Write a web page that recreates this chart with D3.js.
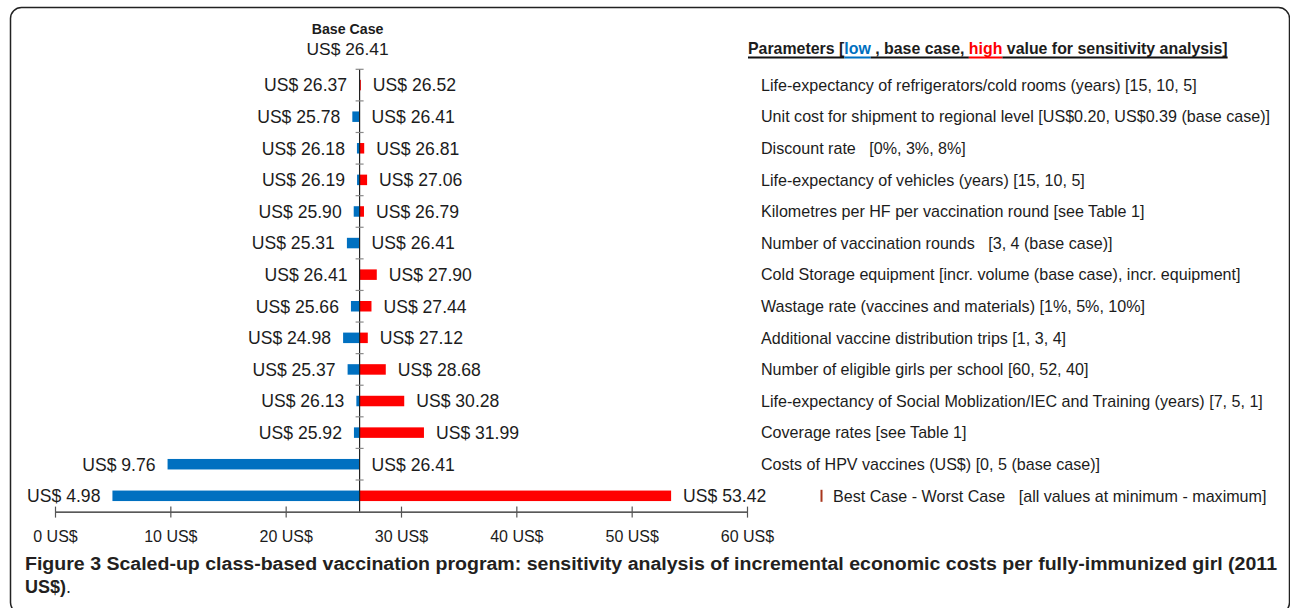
<!DOCTYPE html>
<html>
<head>
<meta charset="utf-8">
<script src="https://cdn.jsdelivr.net/npm/d3@7"></script>
<style>
  html, body { margin: 0; padding: 0; background: #fff; }
  svg { display: block; }
  text { font-family: "Liberation Sans", Arial, sans-serif; }
</style>
</head>
<body>
<svg id="chart" width="1290" height="608"></svg>
<script>
// ---- data ----
const parameters = [
  "Life-expectancy of refrigerators/cold rooms (years) [15, 10, 5]",
  "Unit cost for shipment to regional level [US$0.20, US$0.39 (base case)]",
  "Discount rate   [0%, 3%, 8%]",
  "Life-expectancy of vehicles (years) [15, 10, 5]",
  "Kilometres per HF per vaccination round [see Table 1]",
  "Number of vaccination rounds   [3, 4 (base case)]",
  "Cold Storage equipment [incr. volume (base case), incr. equipment]",
  "Wastage rate (vaccines and materials) [1%, 5%, 10%]",
  "Additional vaccine distribution trips [1, 3, 4]",
  "Number of eligible girls per school [60, 52, 40]",
  "Life-expectancy of Social Moblization/IEC and Training (years) [7, 5, 1]",
  "Coverage rates [see Table 1]",
  "Costs of HPV vaccines (US$) [0, 5 (base case)]",
  "Best Case - Worst Case   [all values at minimum - maximum]"
];
const lowValues  = [26.37, 25.78, 26.18, 26.19, 25.90, 25.31, 26.41, 25.66, 24.98, 25.37, 26.13, 25.92, 9.76, 4.98];
const highValues = [26.52, 26.41, 26.81, 27.06, 26.79, 26.41, 27.90, 27.44, 27.12, 28.68, 30.28, 31.99, 26.41, 53.42];
const baseCase = 26.41;
const tickValues = [0, 10, 20, 30, 40, 50, 60];
const tickLabels = ["0 US$", "10 US$", "20 US$", "30 US$", "40 US$", "50 US$", "60 US$"];

const BLUE = "#0070C0", RED = "#FF0000", TXT = "#1c1c1c";
const fmt = v => "US$ " + v.toFixed(2);

const svg = d3.select("#chart");

// frame
svg.append("rect")
  .attr("x", 10.5).attr("y", 7.5)
  .attr("width", 1279).attr("height", 606)
  .attr("rx", 11).attr("ry", 11)
  .attr("fill", "none").attr("stroke", "#222").attr("stroke-width", 1.5);

// scales
const x = d3.scaleLinear().domain([0, 60]).range([55, 747]);
const rows = d3.range(parameters.length);
const y = d3.scaleBand().domain(rows).range([69.3, 511.6]).paddingInner(0).paddingOuter(0);
const barH = 10.5;

// header
svg.append("text").attr("x", x(baseCase) - 12).attr("y", 33.5)
  .attr("text-anchor", "middle").attr("font-size", 14.2).attr("font-weight", "bold")
  .attr("fill", TXT).text("Base Case");
svg.append("text").attr("x", x(baseCase) - 12).attr("y", 55)
  .attr("text-anchor", "middle").attr("font-size", 17.4)
  .attr("fill", TXT).text(fmt(baseCase));

// parameters header
const hdr = svg.append("text").attr("x", 748).attr("y", 54)
  .attr("font-size", 15.9).attr("font-weight", "bold").attr("fill", TXT);
const hdrParts = [
  ["Parameters [", TXT], ["low", BLUE], [" , base case, ", TXT], ["high", RED],
  [" value for sensitivity analysis]", TXT]
];
hdrParts.forEach(([t, c]) => hdr.append("tspan").attr("fill", c).style("white-space", "pre").text(t));
// thick underline drawn per segment
{
  let cx = 748;
  const g = svg.append("g");
  const tmp = svg.append("text").attr("font-size", 15.9).attr("font-weight", "bold").style("white-space", "pre");
  hdrParts.forEach(([t, c]) => {
    tmp.text(t);
    const w = tmp.node().getComputedTextLength();
    g.append("rect").attr("x", cx).attr("y", 56.5).attr("width", w).attr("height", 2).attr("fill", c === TXT ? "#111" : c);
    cx += w;
  });
  tmp.remove();
}

// bars
const rowsG = svg.append("g");
rows.forEach(i => {
  const yc = y(i) + y.bandwidth() / 2;
  const lo = Math.min(lowValues[i], baseCase);
  const hi = Math.max(highValues[i], baseCase);
  if (lo < baseCase) {
    rowsG.append("rect").attr("x", x(lo)).attr("y", yc - barH / 2)
      .attr("width", x(baseCase) - x(lo)).attr("height", barH).attr("fill", BLUE);
  }
  if (hi > baseCase) {
    rowsG.append("rect").attr("x", x(baseCase)).attr("y", yc - barH / 2)
      .attr("width", x(hi) - x(baseCase)).attr("height", barH).attr("fill", RED);
  }
  // labels
  rowsG.append("text").attr("x", x(lo) - 12).attr("y", yc).attr("dy", "0.36em")
    .attr("text-anchor", "end").attr("font-size", 17.6).attr("fill", TXT).text(fmt(lowValues[i]));
  rowsG.append("text").attr("x", x(hi) + 12).attr("y", yc).attr("dy", "0.36em")
    .attr("font-size", 17.6).attr("fill", TXT).text(fmt(highValues[i]));
  // parameter text
  const isLast = i === parameters.length - 1;
  rowsG.append("text").attr("x", isLast ? 833 : 761).attr("y", yc).attr("dy", "0.36em")
    .attr("font-size", 16.1).attr("fill", TXT).style("white-space", "pre").text(parameters[i]);
  if (isLast) {
    rowsG.append("rect").attr("x", 820.5).attr("y", yc - 6).attr("width", 2).attr("height", 12).attr("fill", "#a8361c");
  }
});

// center line with row ticks
const cxl = x(baseCase);
svg.append("line").attr("x1", cxl).attr("x2", cxl).attr("y1", 69).attr("y2", 511.6)
  .attr("stroke", "#222").attr("stroke-width", 1.2);
const bounds = rows.map(i => y(i));
svg.append("g").selectAll("line").data(bounds).join("line")
  .attr("x1", cxl - 4).attr("x2", cxl + 4).attr("y1", d => d).attr("y2", d => d)
  .attr("stroke", "#8a8a8a").attr("stroke-width", 1.2);

// x axis
const axisG = svg.append("g").attr("transform", "translate(0,511.6)");
const axis = d3.axisBottom(x).tickValues(tickValues).tickSize(0)
  .tickFormat((d, i) => tickLabels[i]);
axisG.call(axis);
axisG.select(".domain").attr("stroke", "#222").attr("stroke-width", 1.2);
axisG.selectAll(".tick line").attr("y1", -5).attr("y2", 6).attr("stroke", "#555").attr("stroke-width", 1.2);
axisG.selectAll(".tick text").attr("y", 19).attr("dy", "0.71em").attr("font-size", 16)
  .attr("font-family", "'Liberation Sans', Arial, sans-serif").attr("fill", TXT);

// caption
svg.append("text").attr("x", 25).attr("y", 570)
  .attr("font-family", "'Open Sans', 'Noto Sans', sans-serif").attr("font-size", 18)
  .attr("font-weight", "bold").attr("fill", "#231f20")
  .attr("textLength", 1252).attr("lengthAdjust", "spacingAndGlyphs")
  .text("Figure 3 Scaled-up class-based vaccination program: sensitivity analysis of incremental economic costs per fully-immunized girl (2011");
const cap2 = svg.append("text").attr("x", 25).attr("y", 593)
  .attr("font-family", "'Open Sans', 'Noto Sans', sans-serif").attr("font-size", 18)
  .attr("fill", "#231f20");
cap2.append("tspan").attr("font-weight", "bold").text("US$)");
cap2.append("tspan").text(".");
</script>
</body>
</html>
